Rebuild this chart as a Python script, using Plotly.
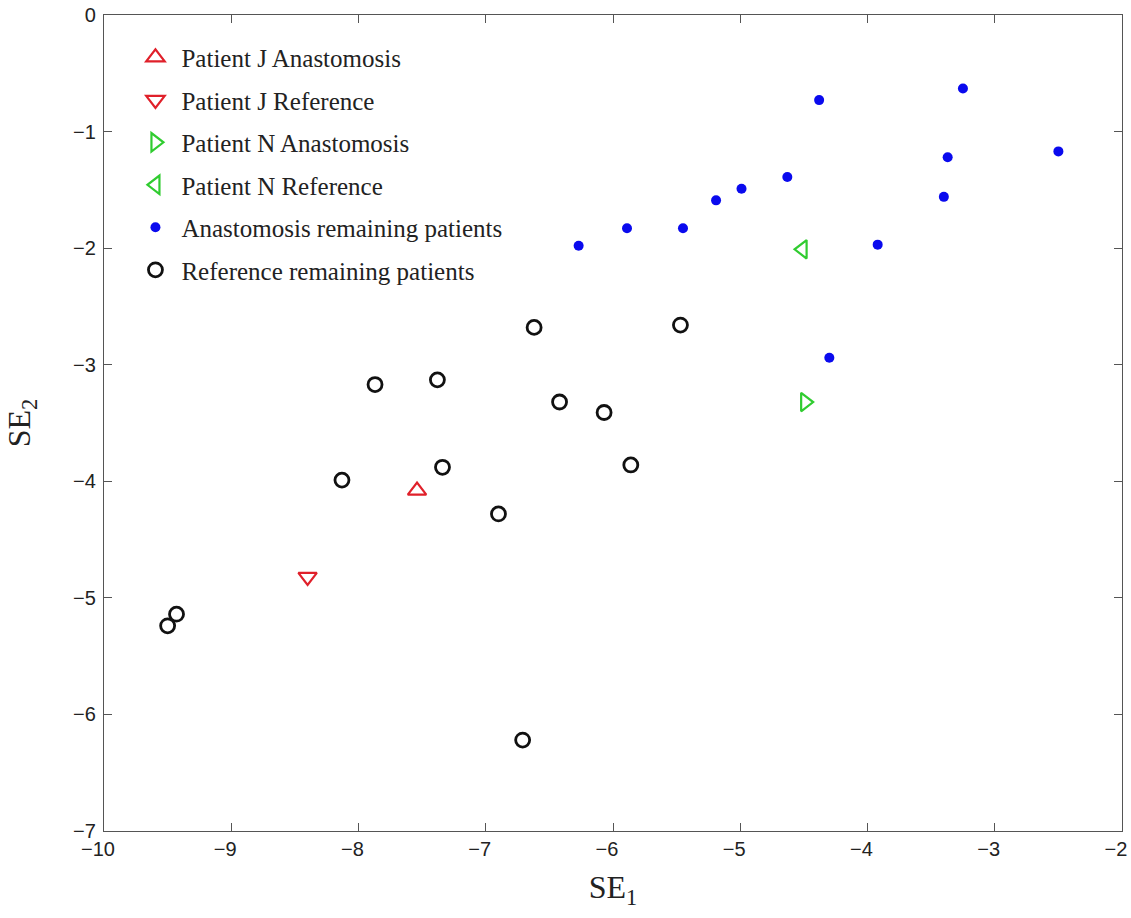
import plotly.graph_objects as go

# Data
pj_anast_x = [-7.54]
pj_anast_y = [-4.08]
pj_ref_x = [-8.40]
pj_ref_y = [-4.82]
pn_anast_x = [-4.49]
pn_anast_y = [-3.32]
pn_ref_x = [-4.51]
pn_ref_y = [-2.01]
anast_x = [-6.27, -5.89, -5.45, -5.19, -4.99, -4.63, -4.38, -3.92, -3.40, -3.37, -3.25, -2.50, -4.30]
anast_y = [-1.98, -1.83, -1.83, -1.59, -1.49, -1.39, -0.73, -1.97, -1.56, -1.22, -0.63, -1.17, -2.94]
ref_x = [-6.62, -5.47, -7.87, -7.38, -6.42, -6.07, -7.34, -5.86, -8.13, -6.90, -9.43, -9.50, -6.71]
ref_y = [-2.68, -2.66, -3.17, -3.13, -3.32, -3.41, -3.88, -3.86, -3.99, -4.28, -5.14, -5.24, -6.22]

x_ticks = [-10, -9, -8, -7, -6, -5, -4, -3, -2]
y_ticks = [0, -1, -2, -3, -4, -5, -6, -7]

RED = "#e0202a"
GREEN = "#30cc30"
BLUE = "#0a0aee"
SERIF = "Liberation Serif, Times New Roman, serif"

fig = go.Figure()
fig.add_trace(go.Scatter(x=pj_anast_x, y=pj_anast_y, mode="markers", name="Patient J Anastomosis",
                         legendgroup="a",
                         marker=dict(symbol="triangle-up-open", size=16, color=RED, line=dict(width=2.2, color=RED))))
fig.add_trace(go.Scatter(x=pj_ref_x, y=pj_ref_y, mode="markers", name="Patient J Reference",
                         legendgroup="b",
                         marker=dict(symbol="triangle-down-open", size=16, color=RED, line=dict(width=2.2, color=RED))))
fig.add_trace(go.Scatter(x=pn_anast_x, y=pn_anast_y, mode="markers", name="Patient N Anastomosis",
                         legendgroup="c",
                         marker=dict(symbol="triangle-right-open", size=16, color=GREEN, line=dict(width=2.2, color=GREEN))))
fig.add_trace(go.Scatter(x=pn_ref_x, y=pn_ref_y, mode="markers", name="Patient N Reference",
                         legendgroup="d",
                         marker=dict(symbol="triangle-left-open", size=16, color=GREEN, line=dict(width=2.2, color=GREEN))))
fig.add_trace(go.Scatter(x=anast_x, y=anast_y, mode="markers", name="Anastomosis remaining patients",
                         legendgroup="e",
                         marker=dict(symbol="circle", size=10, color=BLUE, line=dict(width=0))))
fig.add_trace(go.Scatter(x=ref_x, y=ref_y, mode="markers", name="Reference remaining patients",
                         legendgroup="f",
                         marker=dict(symbol="circle-open", size=14, color="#111111", line=dict(width=2.8, color="#111111"))))

axis_common = dict(
    showgrid=False, zeroline=False, showline=True, linecolor="#555555", linewidth=1.2,
    mirror="ticks", ticks="inside", ticklen=8, tickcolor="#555555", automargin=False,
    ticklabeloverflow="allow",
    tickfont=dict(family="Liberation Sans, Arial, sans-serif", size=20, color="#222222"),
)

def fmt(v):
    return ("\u2212" + str(abs(v))) if v < 0 else str(v)

fig.update_layout(
    width=1131, height=918,
    margin=dict(l=104, r=9, t=15, b=87),
    paper_bgcolor="white", plot_bgcolor="white",
    showlegend=True,
    legend=dict(x=0.025, y=0.976, xanchor="left", yanchor="top",
                bgcolor="rgba(255,255,255,0)", borderwidth=0,
                font=dict(family=SERIF, size=25, color="#222222"),
                tracegroupgap=7, itemwidth=42),
    xaxis=dict(range=[-10, -2], tickvals=x_ticks, ticktext=[fmt(v) for v in x_ticks],
               ticklabelshift=-6,
               title=dict(text="SE<sub>1</sub>", font=dict(family=SERIF, size=32, color="#222222"),
                          standoff=16),
               **axis_common),
    yaxis=dict(range=[-7, 0], tickvals=y_ticks, ticktext=[fmt(v) for v in y_ticks],
               ticklabelstandoff=3,
               title=dict(text="SE<sub>2</sub>", font=dict(family=SERIF, size=32, color="#222222"),
                          standoff=32),
               **axis_common),
)

fig.write_html("out.html", config={"displayModeBar": False},
               post_script="document.body.style.margin='0';document.body.style.padding='0';")
